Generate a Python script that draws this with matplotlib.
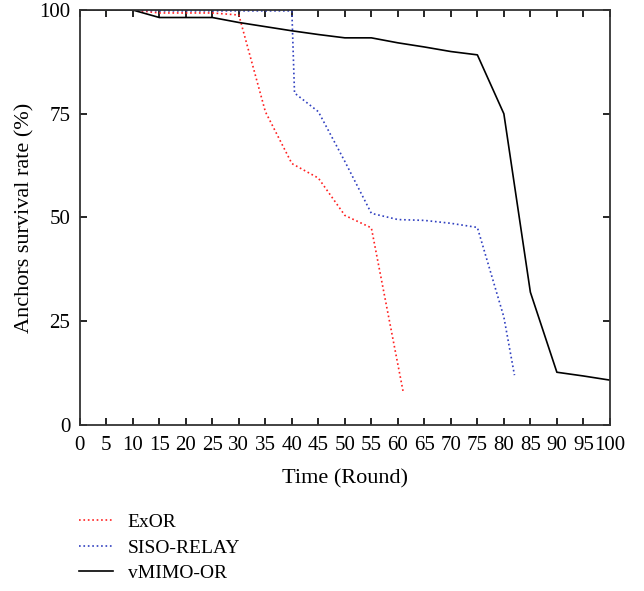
import numpy as np
import matplotlib
matplotlib.use('Agg')
import matplotlib.pyplot as plt

plt.rcParams['font.family'] = ['Liberation Serif', 'DejaVu Serif']

# ExOR
exor_x = [0, 5, 10, 15, 20, 25, 30, 35, 40, 45, 50, 55, 61]
exor_y = [100, 100, 100, 99.3, 99.3, 99.3, 98.8, 75.5, 63, 59.5, 50.5, 47.5, 8]

# SISO-RELAY
siso_x = [0, 5, 10, 15, 20, 25, 30, 35, 40, 40.5, 45, 50, 55, 60, 65, 70, 75, 80, 82]
siso_y = [100, 100, 100, 99.8, 99.8, 99.8, 99.8, 99.8, 99.8, 80, 75.5, 63.5, 51, 49.5, 49.3, 48.6, 47.6, 26, 12]

# vMIMO-OR
vmimo_x = [0, 5, 10, 15, 20, 25, 30, 35, 40, 45, 50, 55, 60, 65, 70, 75, 80, 85, 90, 95, 100]
vmimo_y = [100, 100, 100, 98.2, 98.2, 98.2, 97, 96, 95, 94.1, 93.3, 93.3, 92.1, 91.1, 90, 89.2, 75, 32, 12.7, 11.8, 10.8]

xticks = list(range(0, 101, 5))
yticks = [0, 25, 50, 75, 100]

fig = plt.figure(figsize=(6.44, 5.91), dpi=100)
ax = fig.add_axes([0.124, 0.281, 0.823, 0.702])

l1, = ax.plot(exor_x, exor_y, ':', color='#ff2020', linewidth=1.2, label='ExOR')
l2, = ax.plot(siso_x, siso_y, ':', color='#3040c0', linewidth=1.2, label='SISO-RELAY')
l3, = ax.plot(vmimo_x, vmimo_y, '-', color='black', linewidth=1.2, label='vMIMO-OR')

ax.set_xlim(0, 100)
ax.set_ylim(0, 100)
ax.set_xticks(xticks)
ax.set_yticks(yticks)
ax.tick_params(direction='in', top=True, right=True, length=5, width=1.2,
               labelsize=15)
ax.tick_params(axis='x', pad=8)
ax.tick_params(axis='y', pad=7)
for s in ax.spines.values():
    s.set_linewidth(1.3)
    s.set_color('#333333')

ax.set_xlabel('Time (Round)', fontsize=16, labelpad=10)
ax.set_ylabel('Anchors survival rate (%)', fontsize=16, labelpad=3)

fig.legend(handles=[l1, l2, l3], loc='upper left', bbox_to_anchor=(0.110, 0.144),
           frameon=False, fontsize=14, handlelength=1.75, handletextpad=0.77,
           labelspacing=0.4, borderaxespad=0)

plt.savefig('out.png', dpi=100)
